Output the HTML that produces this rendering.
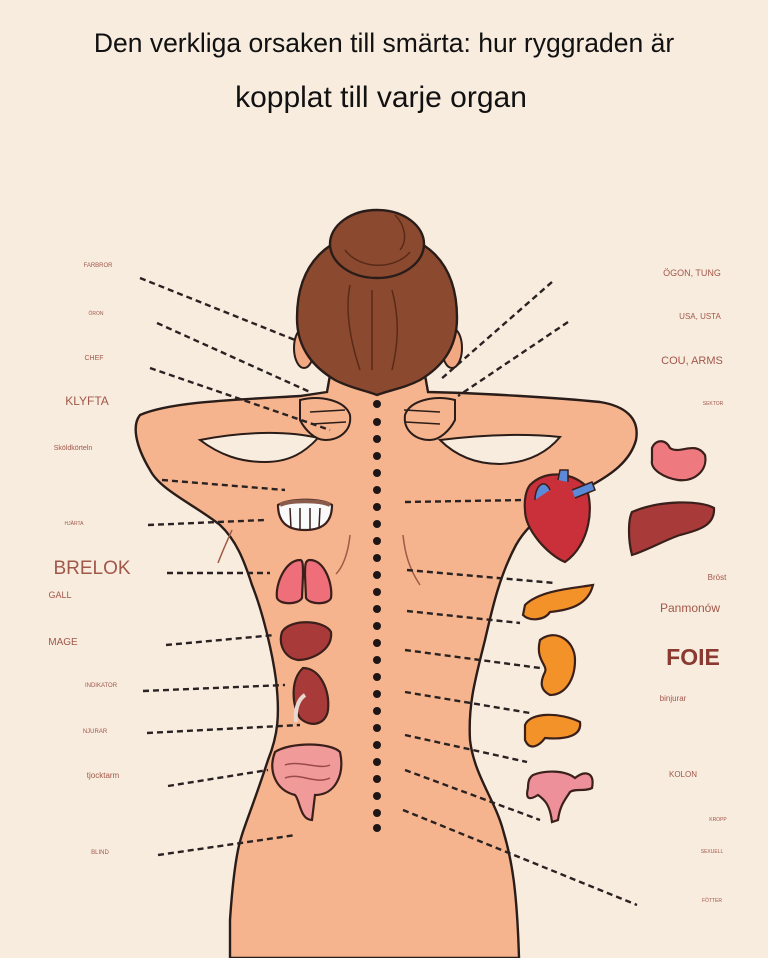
<!DOCTYPE html>
<html><head><meta charset="utf-8"><style>
html,body{margin:0;padding:0;background:#f8ecdf;}
svg{display:block;}
text{font-family:"Liberation Sans",sans-serif;}
.l{fill:#a0584a;}
.d{stroke:#2a2222;stroke-width:2.4;stroke-dasharray:6 4;fill:none;}
.o{stroke:#3a1f1a;stroke-width:2.2;}
</style></head><body>
<svg width="768" height="958" viewBox="0 0 768 958" xmlns="http://www.w3.org/2000/svg">
<rect width="768" height="958" fill="#f8ecdf"/>
<text x="384" y="52" text-anchor="middle" font-size="26.5" fill="#111">Den verkliga orsaken till smärta: hur ryggraden är</text>
<text x="381" y="107" text-anchor="middle" font-size="30" fill="#111">kopplat till varje organ</text>

<!-- body -->
<path d="M230,958 L230,920 C232,890 234,870 238,850 C242,830 250,815 268,760 C278,735 280,715 276,680 C272,650 262,610 252,585 C244,560 236,540 220,525 C195,505 160,490 150,470 C135,445 132,425 140,415 C170,402 230,400 300,396 L327,392 L330,375 L425,375 L428,392 C480,393 560,398 600,402 C625,406 640,418 636,440 C630,462 610,475 592,485 C560,500 530,520 516,545 C500,575 493,605 485,640 C475,680 468,705 470,740 C474,775 495,800 503,830 C512,860 517,890 519,958 Z" fill="#f5b48e" stroke="#2a1c18" stroke-width="2.4"/>
<!-- arm gaps -->
<path d="M200,440 C240,432 285,430 318,438 C305,452 290,462 265,462 C240,462 220,455 200,440 Z" fill="#f8ecdf" stroke="#2a1c18" stroke-width="2"/>
<path d="M440,440 C480,435 520,433 560,437 C545,455 525,463 500,464 C475,464 455,455 440,440 Z" fill="#f8ecdf" stroke="#2a1c18" stroke-width="2"/>
<!-- hands -->
<path d="M300,400 C320,395 345,400 350,415 C352,430 340,440 325,440 C315,440 305,430 300,420 Z" fill="#f5b48e" stroke="#2a1c18" stroke-width="2"/>
<path d="M455,400 C435,395 410,400 405,415 C403,430 415,440 430,440 C440,440 450,430 455,420 Z" fill="#f5b48e" stroke="#2a1c18" stroke-width="2"/>
<path d="M310,412 L345,410 M312,424 L346,422 M404,410 L440,412 M405,422 L440,424" stroke="#2a1c18" stroke-width="1.5"/>
<path d="M218,563 C225,545 230,535 232,530" stroke="#a05a48" fill="none" stroke-width="1.5"/>
<path d="M403,535 C405,555 410,570 420,585" stroke="#a05a48" fill="none" stroke-width="1.5"/>
<path d="M350,535 C348,555 342,568 336,574" stroke="#a05a48" fill="none" stroke-width="1.5"/>
<!-- head -->
<ellipse cx="304" cy="348" rx="10" ry="20" fill="#f2a882" stroke="#2a1c18" stroke-width="2"/>
<ellipse cx="452" cy="348" rx="10" ry="20" fill="#f2a882" stroke="#2a1c18" stroke-width="2"/>
<path d="M297,318 C297,262 330,233 377,233 C425,233 457,262 457,318 C457,350 440,368 420,380 C405,388 390,390 377,395 C364,390 350,388 335,380 C315,368 297,350 297,318 Z" fill="#8b4a30" stroke="#2a1c18" stroke-width="2.4"/>
<ellipse cx="377" cy="244" rx="47" ry="34" fill="#8b4a30" stroke="#2a1c18" stroke-width="2.4"/>
<path d="M345,250 C360,270 395,270 410,252 M395,215 C405,225 408,240 400,250 M350,285 C345,310 350,340 360,370 M372,290 L372,370 M392,290 C400,320 398,345 392,370" stroke="#5a2a18" fill="none" stroke-width="1.5"/>

<!-- spine -->
<g fill="#1e1616">
<circle cx="377" cy="404" r="4"/><circle cx="377" cy="422" r="4"/><circle cx="377" cy="439" r="4"/><circle cx="377" cy="456" r="4"/><circle cx="377" cy="473" r="4"/><circle cx="377" cy="490" r="4"/><circle cx="377" cy="507" r="4"/><circle cx="377" cy="524" r="4"/><circle cx="377" cy="541" r="4"/><circle cx="377" cy="558" r="4"/><circle cx="377" cy="575" r="4"/><circle cx="377" cy="592" r="4"/><circle cx="377" cy="609" r="4"/><circle cx="377" cy="626" r="4"/><circle cx="377" cy="643" r="4"/><circle cx="377" cy="660" r="4"/><circle cx="377" cy="677" r="4"/><circle cx="377" cy="694" r="4"/><circle cx="377" cy="711" r="4"/><circle cx="377" cy="728" r="4"/><circle cx="377" cy="745" r="4"/><circle cx="377" cy="762" r="4"/><circle cx="377" cy="779" r="4"/><circle cx="377" cy="796" r="4"/><circle cx="377" cy="813" r="4"/><circle cx="377" cy="828" r="4"/>
</g>

<!-- dashed lines -->
<g class="d">
<path d="M140,278 L295,340"/><path d="M157,323 L310,392"/><path d="M150,368 L330,430"/>
<path d="M162,480 L285,490"/><path d="M148,525 L265,520"/><path d="M167,573 L270,573"/>
<path d="M166,645 L275,635"/><path d="M143,691 L285,685"/><path d="M147,733 L300,725"/>
<path d="M168,786 L268,770"/><path d="M158,855 L296,835"/>
<path d="M552,282 L440,380"/><path d="M568,322 L458,396"/>
<path d="M405,502 L525,500"/><path d="M407,570 L555,583"/><path d="M407,611 L520,623"/>
<path d="M405,650 L540,668"/><path d="M405,692 L530,713"/><path d="M405,735 L527,762"/>
<path d="M405,770 L540,820"/><path d="M403,810 L637,905"/>
</g>

<!-- left organs -->
<path d="M278,505 C290,498 322,498 332,505 C332,520 325,530 305,530 C285,530 278,520 278,505 Z" fill="#fafafa" class="o"/>
<path d="M280,505 C290,500 320,500 330,505" stroke="#8a5a4a" stroke-width="4" fill="none"/>
<path d="M290,508 L291,528 M300,508 L300,530 M310,508 L310,530 M320,508 L319,528" stroke="#3a1f1a" stroke-width="1.5"/>
<path d="M300,560 C285,560 275,585 277,598 C280,605 298,605 302,598 L303,575 C303,565 303,560 300,560 Z" fill="#ee6f7a" class="o"/>
<path d="M310,560 C325,560 333,585 331,598 C328,605 310,605 306,598 L305,575 C305,565 305,560 310,560 Z" fill="#ee6f7a" class="o"/>
<path d="M282,632 C290,618 325,620 331,632 C333,650 312,660 298,660 C285,658 278,645 282,632 Z" fill="#a83a3a" class="o"/>
<path d="M303,668 C320,668 330,690 328,710 C326,725 310,728 300,718 C292,705 290,680 303,668 Z" fill="#a83a3a" class="o"/>
<path d="M305,695 C297,700 295,712 296,722" stroke="#e8d8d0" stroke-width="4" fill="none"/>
<path d="M275,752 C290,742 330,742 340,752 C345,775 335,795 315,795 L312,820 C300,820 300,800 295,795 C275,790 268,770 275,752 Z" fill="#f09a9a" class="o"/>
<path d="M285,765 C300,760 320,770 330,765 M285,778 C300,772 315,785 330,778" stroke="#9a4a4a" stroke-width="1.5" fill="none"/>

<!-- right organs -->
<path d="M530,485 C545,470 570,472 585,485 C595,505 590,545 565,562 C548,555 525,530 525,510 C524,500 526,490 530,485 Z" fill="#c9303a" class="o"/>
<path d="M535,500 C535,485 545,478 550,490 M558,480 L560,470 L568,470 L568,482 M572,490 L592,482 L595,490 L575,498" stroke="#3a1f1a" stroke-width="1.5" fill="#5b8ad8"/>
<path d="M652,448 C655,440 665,438 670,448 C680,455 695,440 705,455 C708,470 695,482 678,480 C665,478 650,470 652,460 Z" fill="#ee7a80" class="o"/>
<path d="M632,512 C660,500 700,500 714,508 C715,525 700,530 680,535 C665,540 648,550 632,555 C628,540 628,520 632,512 Z" fill="#a83a3a" class="o"/>
<path d="M525,605 C540,590 575,588 593,585 C588,605 570,610 550,612 C545,620 530,622 523,615 Z" fill="#f4922a" class="o"/>
<path d="M540,640 C555,628 575,640 575,660 C575,680 565,695 550,695 C540,690 540,682 545,672 C548,665 535,660 540,640 Z" fill="#f4922a" class="o"/>
<path d="M525,725 C530,712 560,712 580,722 C582,735 568,740 545,738 C540,745 530,752 525,740 Z" fill="#f4922a" class="o"/>
<path d="M533,775 C545,770 565,770 575,778 C585,770 595,772 592,788 C585,792 575,788 570,792 C565,800 560,805 558,820 L552,822 C550,805 545,800 538,795 C530,800 525,800 528,788 C528,780 530,777 533,775 Z" fill="#ee909a" class="o"/>

<!-- left labels -->
<text class="l" x="98" y="267" font-size="6" text-anchor="middle">FARBROR</text>
<text class="l" x="96" y="315" font-size="5" text-anchor="middle">ÖRON</text>
<text class="l" x="94" y="360" font-size="7" text-anchor="middle">CHEF</text>
<text class="l" x="87" y="405" font-size="12" text-anchor="middle">KLYFTA</text>
<text class="l" x="73" y="450" font-size="7" text-anchor="middle">Sköldkörteln</text>
<text class="l" x="74" y="525" font-size="5" text-anchor="middle">HJÄRTA</text>
<text class="l" x="92" y="574" font-size="19" text-anchor="middle" fill="#8a3a30">BRELOK</text>
<text class="l" x="60" y="598" font-size="9" text-anchor="middle">GALL</text>
<text class="l" x="63" y="645" font-size="10" text-anchor="middle">MAGE</text>
<text class="l" x="101" y="687" font-size="6" text-anchor="middle">INDIKATOR</text>
<text class="l" x="95" y="733" font-size="6" text-anchor="middle">NJURAR</text>
<text class="l" x="103" y="778" font-size="8" text-anchor="middle">tjocktarm</text>
<text class="l" x="100" y="854" font-size="6" text-anchor="middle">BLIND</text>
<!-- right labels -->
<text class="l" x="692" y="276" font-size="9" text-anchor="middle">ÖGON, TUNG</text>
<text class="l" x="700" y="319" font-size="8" text-anchor="middle">USA, USTA</text>
<text class="l" x="692" y="364" font-size="11" text-anchor="middle">COU, ARMS</text>
<text class="l" x="713" y="405" font-size="5" text-anchor="middle">SEKTOR</text>
<text class="l" x="717" y="580" font-size="8" text-anchor="middle">Bröst</text>
<text class="l" x="690" y="612" font-size="12" text-anchor="middle">Panmonów</text>
<text x="693" y="665" font-size="23" font-weight="bold" text-anchor="middle" fill="#8a3a30">FOIE</text>
<text class="l" x="673" y="701" font-size="8" text-anchor="middle">binjurar</text>
<text class="l" x="683" y="777" font-size="8" text-anchor="middle">KOLON</text>
<text class="l" x="718" y="821" font-size="5" text-anchor="middle">KROPP</text>
<text class="l" x="712" y="853" font-size="5" text-anchor="middle">SEXUELL</text>
<text class="l" x="712" y="902" font-size="5" text-anchor="middle">FÖTTER</text>
</svg>
</body></html>
